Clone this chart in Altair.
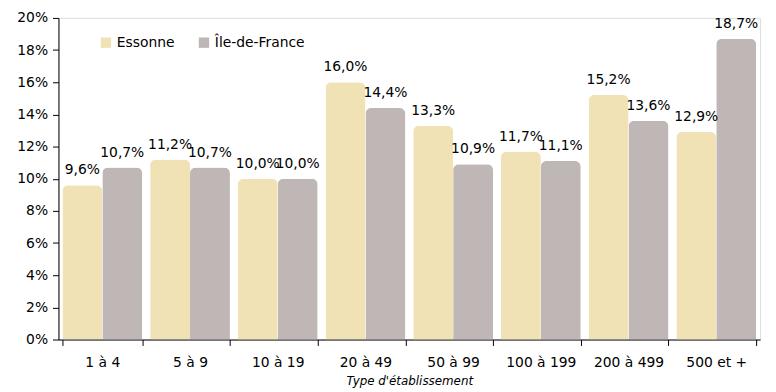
import altair as alt
import pandas as pd

categories = ["1 à 4", "5 à 9", "10 à 19", "20 à 49", "50 à 99", "100 à 199", "200 à 499", "500 et +"]
series = ["Essonne", "Île-de-France"]
essonne = [9.6, 11.2, 10.0, 16.0, 13.3, 11.7, 15.2, 12.9]
idf = [10.7, 10.7, 10.0, 14.4, 10.9, 11.1, 13.6, 18.7]
colors = ["#F0E2B4", "#BFB6B6"]

rows = []
for i, c in enumerate(categories):
    for s, vals in zip(series, [essonne, idf]):
        v = vals[i]
        rows.append({"cat": c, "serie": s, "val": v,
                     "label": f"{v:.1f}".replace(".", ",") + "%"})
df = pd.DataFrame(rows)

font = "DejaVu Sans"
fs = 14

x = alt.X("cat:N", sort=categories, title="Type d'établissement",
          scale=alt.Scale(paddingInner=0.09, paddingOuter=0.045),
          axis=alt.Axis(labelAngle=0, tickBand="extent", tickSize=6, labelPadding=10,
                        labelFontSize=fs, labelColor="black", labelFont=font,
                        domainColor="black", tickColor="black",
                        titleFont=font, titleFontSize=12, titleFontStyle="italic",
                        titleFontWeight="normal", titleColor="black", titlePadding=6))
xo = alt.XOffset("serie:N", sort=series, scale=alt.Scale(paddingInner=0, paddingOuter=0))
y = alt.Y("val:Q", scale=alt.Scale(domain=[0, 20], nice=False),
          axis=alt.Axis(values=list(range(0, 21, 2)), labelExpr="datum.value + '%'",
                        grid=False, tickSize=6, labelFontSize=fs, labelColor="black",
                        labelFont=font, domainColor="black", tickColor="black",
                        labelPadding=5),
          title=None)

bars = alt.Chart(df).mark_bar(cornerRadiusTopLeft=6, cornerRadiusTopRight=6).encode(
    x=x, xOffset=xo, y=y,
    color=alt.Color("serie:N", sort=series,
                    scale=alt.Scale(domain=series, range=colors),
                    legend=alt.Legend(title=None, orient="none", direction="horizontal",
                                      legendX=41, legendY=18, symbolType="square",
                                      symbolSize=110, symbolStrokeWidth=0,
                                      labelFontSize=fs, labelFont=font, labelColor="black",
                                      columnPadding=22, symbolOpacity=1))
)

texts = alt.Chart(df).mark_text(baseline="bottom", dy=-8, fontSize=fs, font=font,
                                color="black").encode(
    x=x, xOffset=xo, y=y, text="label:N"
)

chart = (bars + texts).properties(
    width=709, height=325,
    padding={"left": 51, "top": 8, "right": 8, "bottom": 51},
    autosize=alt.AutoSizeParams(type="none"),
).configure_view(stroke=None).configure(background="white")

chart.save("out.html", embed_options={"renderer": "svg", "actions": False})
